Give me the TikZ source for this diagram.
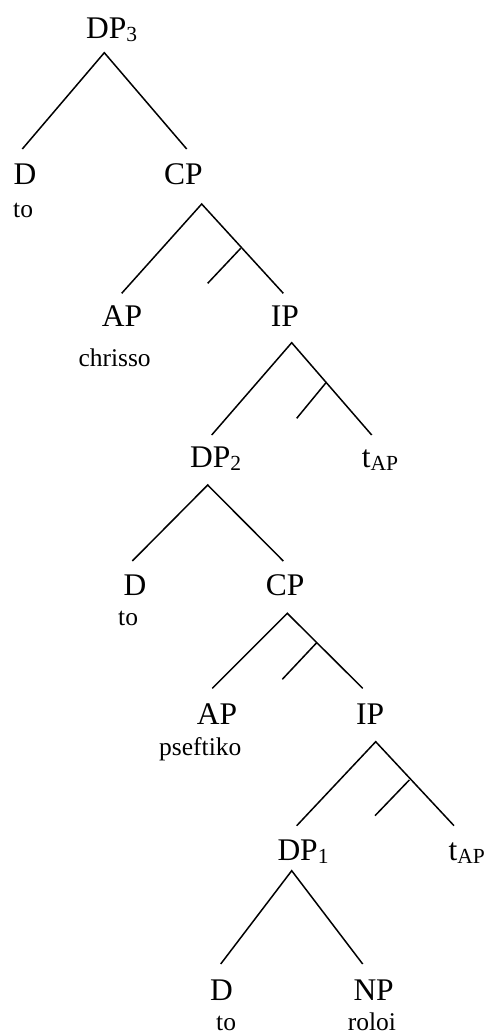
\documentclass[tikz,border=0pt]{standalone}
\usepackage{fontspec}
\setmainfont{Liberation Serif}
\usetikzlibrary{positioning}

\newcommand{\lowsub}[1]{\raisebox{-3pt}{\fontsize{21.5}{22}\selectfont #1}}

\tikzset{
	cat/.style={inner sep=0pt,anchor=base west,font=\fontsize{31.5}{32}\selectfont},
	word/.style={inner sep=0pt,anchor=base west,font=\fontsize{25.5}{26}\selectfont},
	branch/.style={line width=1.5pt}
}

\begin{document}
\begin{tikzpicture}[x=1pt,y=-1pt]
	\useasboundingbox (0,0) rectangle (487,1034);
	% labels
	\node[cat] (dp3) at (86,38) {DP\lowsub{3}};
	\node[cat] (d-a) at (13.3,184) {D};
	\node[word] (to-a) at (13,217) {to};
	\node[cat] (cp-a) at (164,184) {CP};
	\node[cat] (ap-a) at (101.7,326) {AP};
	\node[word] (chrisso) at (78.3,366) {chrisso};
	\node[cat] (ip-a) at (270.7,326) {IP};
	\node[cat] (dp2) at (190,467) {DP\lowsub{2}};
	\node[cat] (tap-a) at (361.7,467) {t\lowsub{AP}};
	\node[cat] (d-b) at (123.3,595) {D};
	\node[word] (to-b) at (118,625) {to};
	\node[cat] (cp-b) at (265.7,595) {CP};
	\node[cat] (ap-b) at (196.7,724) {AP};
	\node[word] (pseftiko) at (159,755) {pseftiko};
	\node[cat] (ip-b) at (356,724) {IP};
	\node[cat] (dp1) at (277.3,860) {DP\lowsub{1}};
	\node[cat] (tap-b) at (448.3,860) {t\lowsub{AP}};
	\node[cat] (d-c) at (210,1000) {D};
	\node[word] (to-c) at (216,1030) {to};
	\node[cat] (np) at (353.3,1000) {NP};
	\node[word] (roloi) at (347.7,1030) {roloi};
	% branches
	\foreach \t/\ax/\ay/\lx/\rx/\by in {dp3/104.3/52.7/22.3/186.7/149, cp-a/201.7/204/121.7/283.3/293.3,
		ip-a/291.7/342.7/211.7/371.7/435, dp2/207.7/485/132.3/283.3/561,
		cp-b/287.3/613.3/212.3/362.7/688.3, ip-b/375.7/741.7/296.7/454/825.7,
		dp1/291.7/870.7/220.7/362.7/964} {
		\coordinate (\t-top) at (\ax,\ay);
		\coordinate (\t-left) at (\lx,\by);
		\coordinate (\t-right) at (\rx,\by);
		\draw[branch] (\t-left) -- (\t-top) -- (\t-right);
	}
	% bars
	\foreach \t/\bx/\by/\ex/\ey in {cp-a/240.7/248.3/207.7/283.3, ip-a/326/382.7/296.7/418.3,
		cp-b/316.7/642.7/282.3/679.3, ip-b/409.3/780/375/815.7} {
		\coordinate (\t-bar) at (\bx,\by);
		\coordinate (\t-barend) at (\ex,\ey);
		\draw[branch] (\t-bar) -- (\t-barend);
	}
\end{tikzpicture}
\end{document}
